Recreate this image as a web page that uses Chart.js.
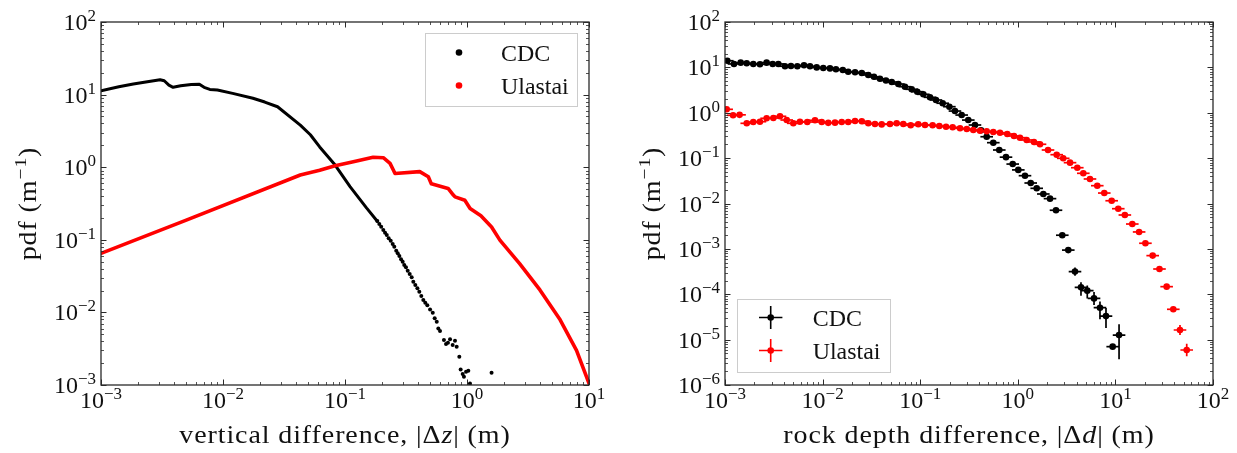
<!DOCTYPE html>
<html><head><meta charset="utf-8">
<script src="https://cdn.jsdelivr.net/npm/chart.js@4.4.1/dist/chart.umd.min.js"></script>
<style>
html,body{margin:0;padding:0;background:#fff;}
#wrap{position:relative;width:1237px;height:453px;overflow:hidden;}
canvas{position:absolute;top:0;}
#c1{left:0;} #c2{left:620px;}
</style></head><body>
<div id="wrap"><canvas id="c1" width="620" height="453"></canvas><canvas id="c2" width="617" height="453"></canvas></div>
<script>
// ---------------- DATA ----------------
// Left panel: vertical difference |Δz| (m) vs pdf
const leftCdcLineX = [0.001, 0.0014, 0.00184, 0.0024, 0.00305, 0.0033, 0.0036, 0.0039, 0.0045, 0.0055, 0.0064, 0.007, 0.0078, 0.009, 0.012, 0.0176, 0.022, 0.028, 0.043, 0.052, 0.062, 0.083, 0.11, 0.15, 0.184];
const leftCdcLineY = [11.3, 12.8, 14.0, 15.0, 16.0, 15.5, 13.5, 12.6, 13.2, 13.8, 13.9, 12.6, 11.8, 11.6, 10.4, 8.9, 7.9, 6.8, 3.8, 2.8, 1.9, 1.07, 0.54, 0.275, 0.18];
const leftCdcTailX = [0.184, 0.191, 0.198, 0.206, 0.213, 0.22, 0.228, 0.237, 0.246, 0.2535, 0.263, 0.2705, 0.279, 0.288, 0.297, 0.306, 0.316, 0.3266, 0.339, 0.352, 0.363, 0.377, 0.392, 0.4065, 0.422, 0.4385, 0.455, 0.473, 0.498, 0.524, 0.5435, 0.565, 0.582, 0.601, 0.647, 0.673, 0.698, 0.726, 0.763, 0.797, 0.823, 0.865, 0.887, 0.922, 0.944, 0.982, 1.025, 1.058, 1.59];
const leftCdcTailY = [0.1815, 0.165, 0.1515, 0.1365, 0.125, 0.1164, 0.105, 0.0973, 0.0875, 0.0804, 0.0708, 0.0652, 0.0598, 0.0538, 0.0499, 0.045, 0.0418, 0.0375, 0.0338, 0.0305, 0.0265, 0.0238, 0.0215, 0.0193, 0.0168, 0.0148, 0.0136, 0.0125, 0.011, 0.0099, 0.0083, 0.00745, 0.006, 0.00555, 0.00417, 0.00367, 0.00383, 0.00426, 0.00356, 0.00407, 0.00337, 0.00245, 0.00164, 0.00142, 0.0013, 0.00152, 0.00157, 0.00105, 0.00148];
const leftUlaX = [0.001, 0.005, 0.043, 0.062, 0.083, 0.117, 0.17, 0.206, 0.234, 0.249, 0.257, 0.41, 0.482, 0.51, 0.70, 0.773, 0.798, 0.96, 1.06, 1.3, 1.59, 1.86, 2.7, 3.96, 5.8, 7.9, 10];
const leftUlaY = [0.065, 0.187, 0.78, 0.91, 1.05, 1.19, 1.37, 1.35, 1.13, 0.915, 0.82, 0.87, 0.74, 0.59, 0.51, 0.414, 0.39, 0.35, 0.27, 0.215, 0.15, 0.099, 0.047, 0.0204, 0.0079, 0.003, 0.00105];

// Right panel: rock depth difference |Δd| (m) vs pdf (binned, with error bars)
const rightCdcX = [1.056e-3, 1.236e-3, 1.448e-3, 1.668e-3, 1.95e-3, 2.28e-3, 2.67e-3, 3.08e-3, 3.52e-3, 4.12e-3, 4.74e-3, 5.51e-3, 6.45e-3, 7.43e-3, 8.7e-3, 0.01016, 0.0119, 0.0137, 0.0161, 0.0183, 0.0215, 0.0252, 0.0294, 0.0336, 0.0387, 0.0446, 0.0511, 0.0597, 0.0698, 0.0818, 0.0933, 0.1077, 0.126, 0.145, 0.170, 0.199, 0.227, 0.266, 0.311, 0.364, 0.42, 0.48, 0.561, 0.646, 0.757, 0.887, 1.012, 1.185, 1.356, 1.562, 1.826, 2.138, 2.462, 2.856, 3.29, 3.855, 4.44, 5.15, 6.04, 6.95, 8.01, 9.38, 10.9];
const rightCdcY = [14.0, 11.9, 12.7, 12.3, 11.9, 11.7, 12.7, 11.9, 11.9, 10.6, 10.7, 10.6, 11.1, 10.6, 10.0, 9.7, 9.5, 9.1, 8.75, 8.0, 7.8, 7.5, 6.8, 6.2, 5.6, 5.14, 4.76, 4.3, 3.75, 3.29, 2.91, 2.55, 2.19, 1.91, 1.62, 1.36, 1.09, 0.89, 0.69, 0.537, 0.41, 0.296, 0.219, 0.151, 0.105, 0.074, 0.055, 0.041, 0.0283, 0.0216, 0.0162, 0.0128, 0.0071, 0.0020, 0.00094, 0.000316, 0.000142, 0.000120, 8.1e-5, 5.05e-5, 3.3e-5, 7.0e-6, 1.26e-5];
const rightCdcYLo = [...Array(55).fill(null), 2.57e-4, 9.3e-5, 8.1e-5, 5.8e-5, 2.8e-5, 1.8e-5, null, 3.7e-6];
const rightCdcYHi = [...Array(55).fill(null), 3.9e-4, 1.83e-4, 1.55e-4, 1.12e-4, 6.9e-5, 5.0e-5, null, 2.18e-5];
const rightUlaX = [1.04e-3, 1.21e-3, 1.41e-3, 1.67e-3, 1.95e-3, 2.28e-3, 2.67e-3, 3.13e-3, 3.66e-3, 4.29e-3, 5.01e-3, 5.86e-3, 6.97e-3, 8.36e-3, 9.8e-3, 0.01143, 0.0134, 0.0157, 0.0183, 0.0215, 0.0252, 0.0294, 0.0344, 0.0403, 0.049, 0.0574, 0.0671, 0.0799, 0.0955, 0.112, 0.134, 0.157, 0.184, 0.215, 0.256, 0.30, 0.35, 0.41, 0.48, 0.561, 0.657, 0.78, 0.914, 1.053, 1.233, 1.465, 1.689, 2.04, 2.503, 2.92, 3.43, 4.07, 4.69, 5.49, 6.52, 7.69, 9.16, 10.7, 12.5, 14.9, 17.5, 20.3, 24.1, 28.3, 33.5, 39.2, 45.9, 53.8];
const rightUlaY = [1.19, 0.879, 0.90, 0.585, 0.625, 0.635, 0.755, 0.766, 0.835, 0.692, 0.585, 0.635, 0.625, 0.682, 0.625, 0.599, 0.605, 0.625, 0.625, 0.658, 0.65, 0.585, 0.565, 0.554, 0.565, 0.585, 0.565, 0.529, 0.56, 0.537, 0.529, 0.511, 0.493, 0.478, 0.454, 0.438, 0.417, 0.402, 0.39, 0.377, 0.363, 0.34, 0.308, 0.282, 0.251, 0.227, 0.202, 0.151, 0.119, 0.099, 0.0794, 0.0615, 0.0463, 0.0347, 0.0247, 0.017, 0.0115, 0.00768, 0.00558, 0.00353, 0.00236, 0.00133, 0.00071, 0.00036, 0.000147, 4.66e-5, 1.63e-5, 5.9e-6];
const rightUlaYLo = [...Array(66).fill(null), 1.26e-5, 4.3e-6];
const rightUlaYHi = [...Array(66).fill(null), 2.1e-5, 8.1e-6];
const binHalfWidthFactor = 1.16; // horizontal error bar half-width (multiplicative)

const seriesNames = ['CDC', 'Ulastai'];
const leftXRange = [1e-3, 1e1], leftYRange = [1e-3, 1e2];
const rightXRange = [1e-3, 1e2], rightYRange = [1e-6, 1e2];

// ---------------- HELPERS ----------------
const FONT = '"Liberation Serif", "Times New Roman", serif';
const zip = (xs, ys) => xs.map((x, i) => ({x, y: ys[i]}));
const fmtExp = k => (k < 0 ? '\u2212' : '') + Math.abs(k);

function logScale(r) {
  return {
    type: 'logarithmic', min: r[0], max: r[1],
    ticks: {display: false}, grid: {display: false, drawTicks: false},
    border: {display: false}, title: {display: false},
    afterFit(s) { if (s.isHorizontal()) s.height = 0; else s.width = 0; }
  };
}

const TSTRETCH = 1.12;
function richWidth(ctx, segs, size) {
  let w = 0;
  for (const s of segs) {
    const fs = s.sup ? size * 0.7 : size;
    ctx.font = (s.it ? 'italic ' : '') + fs + 'px ' + FONT;
    w += ctx.measureText(s.t).width;
  }
  return w;
}
function drawRich(ctx, segs, cx, y, size) {
  ctx.save();
  ctx.translate(cx, y);
  ctx.scale(TSTRETCH, 1);
  ctx.letterSpacing = '0.8px';
  const w = richWidth(ctx, segs, size);
  let x = -w / 2;
  ctx.textAlign = 'left'; ctx.textBaseline = 'alphabetic';
  for (const s of segs) {
    const fs = s.sup ? size * 0.7 : size;
    ctx.font = (s.it ? 'italic ' : '') + fs + 'px ' + FONT;
    ctx.fillText(s.t, x, s.sup ? -size * 0.4 : 0);
    x += ctx.measureText(s.t).width;
  }
  ctx.letterSpacing = '0px';
  ctx.restore();
}

const decor = {
  id: 'decor',
  afterDraw(chart, args, o) {
    const ctx = chart.ctx, a = chart.chartArea;
    const xs = chart.scales.x, ys = chart.scales.y;
    ctx.save();
    ctx.strokeStyle = '#2a2a2a';
    // ticks (inward, all four sides)
    const ticks = (scale, horiz) => {
      const lo = Math.round(Math.log10(scale.min)), hi = Math.round(Math.log10(scale.max));
      for (let k = lo; k <= hi; k++) {
        for (let m = 1; m <= 9; m++) {
          const v = m * Math.pow(10, k);
          if (v < scale.min * 0.999 || v > scale.max * 1.001) continue;
          const p = Math.round(scale.getPixelForValue(v)) + 0.5;
          const len = m === 1 ? 5.5 : 3;
          ctx.lineWidth = m === 1 ? 1 : 0.8;
          ctx.beginPath();
          if (horiz) { ctx.moveTo(p, a.bottom); ctx.lineTo(p, a.bottom - len); ctx.moveTo(p, a.top); ctx.lineTo(p, a.top + len); }
          else { ctx.moveTo(a.left, p); ctx.lineTo(a.left + len, p); ctx.moveTo(a.right, p); ctx.lineTo(a.right - len, p); }
          ctx.stroke();
        }
      }
    };
    ticks(xs, true); ticks(ys, false);
    ctx.lineWidth = 1.3;
    ctx.strokeRect(a.left, a.top, a.right - a.left, a.bottom - a.top);

    // tick labels
    ctx.fillStyle = '#111';
    ctx.textAlign = 'left'; ctx.textBaseline = 'alphabetic';
    const bF = '24px ' + FONT, eF = '17px ' + FONT;
    const label = (k, horiz, p) => {
      ctx.font = bF; const w1 = ctx.measureText('10').width;
      ctx.font = eF; const e = fmtExp(k); const w2 = ctx.measureText(e).width;
      let x0, yb;
      if (horiz) { x0 = p - (w1 + w2) / 2; yb = a.bottom + 23; }
      else { x0 = a.left - 5 - (w1 + w2); yb = p + 8; }
      ctx.font = bF; ctx.fillText('10', x0, yb);
      ctx.font = eF; ctx.fillText(e, x0 + w1, yb - 9);
    };
    for (let k = Math.round(Math.log10(xs.min)); k <= Math.round(Math.log10(xs.max)); k++) label(k, true, xs.getPixelForValue(Math.pow(10, k)));
    for (let k = Math.round(Math.log10(ys.min)); k <= Math.round(Math.log10(ys.max)); k++) label(k, false, ys.getPixelForValue(Math.pow(10, k)));

    // axis titles
    drawRich(ctx, o.xTitle, (a.left + a.right) / 2, a.bottom + 58, 25);
    ctx.save();
    ctx.translate(a.left - 65, (a.top + a.bottom) / 2);
    ctx.rotate(-Math.PI / 2);
    drawRich(ctx, o.yTitle, 0, 0, 25);
    ctx.restore();

    // legend
    const L = o.legend;
    ctx.fillStyle = '#fff';
    ctx.fillRect(L.box[0], L.box[1], L.box[2] - L.box[0], L.box[3] - L.box[1]);
    ctx.strokeStyle = '#cccccc'; ctx.lineWidth = 1;
    ctx.strokeRect(L.box[0] + 0.5, L.box[1] + 0.5, L.box[2] - L.box[0], L.box[3] - L.box[1]);
    L.items.forEach(it => {
      ctx.fillStyle = it.color; ctx.strokeStyle = it.color;
      if (L.err) {
        ctx.lineWidth = 1.6;
        ctx.beginPath();
        ctx.moveTo(L.markerX - 11.7, it.y); ctx.lineTo(L.markerX + 11.7, it.y);
        ctx.moveTo(L.markerX, it.y - 11.5); ctx.lineTo(L.markerX, it.y + 11.5);
        ctx.stroke();
      }
      ctx.beginPath(); ctx.arc(L.markerX, it.y, 3.3, 0, Math.PI * 2); ctx.fill();
      ctx.fillStyle = '#111';
      ctx.save();
      ctx.translate(L.textX, it.y + 8);
      ctx.scale(1.04, 1);
      ctx.font = '23px ' + FONT; ctx.textAlign = 'left';
      ctx.fillText(it.label, 0, 0);
      ctx.restore();
    });
    ctx.restore();
  }
};

const errorBars = {
  id: 'errorBars',
  beforeDatasetDraw(chart, args) {
    const ds = chart.data.datasets[args.index];
    if (!ds.xFactor) return;
    const ctx = chart.ctx, a = chart.chartArea, xs = chart.scales.x, ys = chart.scales.y;
    ctx.save();
    ctx.beginPath(); ctx.rect(a.left, a.top, a.right - a.left, a.bottom - a.top); ctx.clip();
    ctx.strokeStyle = ds.backgroundColor; ctx.lineWidth = 1.7;
    ds.data.forEach((d, i) => {
      const py = ys.getPixelForValue(d.y);
      ctx.beginPath();
      ctx.moveTo(xs.getPixelForValue(d.x / ds.xFactor), py);
      ctx.lineTo(xs.getPixelForValue(d.x * ds.xFactor), py);
      if (ds.yLo && ds.yLo[i] != null) {
        const px = xs.getPixelForValue(d.x);
        ctx.moveTo(px, ys.getPixelForValue(ds.yLo[i]));
        ctx.lineTo(px, ys.getPixelForValue(ds.yHi[i]));
      }
      ctx.stroke();
    });
    ctx.restore();
  }
};

const common = {
  responsive: false, animation: false, devicePixelRatio: 1,
  events: []
};

// ---------------- LEFT CHART ----------------
new Chart(document.getElementById('c1'), {
  type: 'scatter',
  data: {datasets: [
    {label: seriesNames[1], data: zip(leftUlaX, leftUlaY), showLine: true, borderColor: '#ff0000', backgroundColor: '#ff0000', borderWidth: 3.6, borderCapStyle: 'round', borderJoinStyle: 'round', pointRadius: 0, order: 0},
    {label: seriesNames[0], data: zip(leftCdcLineX, leftCdcLineY), showLine: true, borderColor: '#000', backgroundColor: '#000', borderWidth: 3, borderCapStyle: 'round', borderJoinStyle: 'round', pointRadius: 0, order: 1},
    {label: seriesNames[0] + ' tail', data: zip(leftCdcTailX, leftCdcTailY), backgroundColor: '#000', borderWidth: 0, pointRadius: 2, order: 1}
  ]},
  options: Object.assign({}, common, {
    layout: {padding: {left: 101, right: 31, top: 22, bottom: 68}},
    scales: {x: logScale(leftXRange), y: logScale(leftYRange)},
    plugins: {
      legend: {display: false}, tooltip: {enabled: false},
      decor: {
        xTitle: [{t: 'vertical difference, |\u0394'}, {t: 'z', it: true}, {t: '| (m)'}],
        yTitle: [{t: 'pdf (m'}, {t: '\u22121', sup: true}, {t: ')'}],
        legend: {box: [425, 33, 577, 106], markerX: 459, textX: 501, err: false,
          items: [{label: seriesNames[0], color: '#000', y: 52.5}, {label: seriesNames[1], color: '#ff0000', y: 85.5}]}
      }
    }
  }),
  plugins: [decor]
});

// ---------------- RIGHT CHART ----------------
new Chart(document.getElementById('c2'), {
  type: 'scatter',
  data: {datasets: [
    {label: seriesNames[1], data: zip(rightUlaX, rightUlaY), backgroundColor: '#ff0000', borderWidth: 0, pointRadius: 3.3, order: 0,
     xFactor: binHalfWidthFactor, yLo: rightUlaYLo, yHi: rightUlaYHi},
    {label: seriesNames[0], data: zip(rightCdcX, rightCdcY), backgroundColor: '#000', borderWidth: 0, pointRadius: 3.3, order: 1,
     xFactor: binHalfWidthFactor, yLo: rightCdcYLo, yHi: rightCdcYHi}
  ]},
  options: Object.assign({}, common, {
    layout: {padding: {left: 105, right: 24, top: 22, bottom: 68}},
    scales: {x: logScale(rightXRange), y: logScale(rightYRange)},
    plugins: {
      legend: {display: false}, tooltip: {enabled: false},
      decor: {
        xTitle: [{t: 'rock depth difference, |\u0394'}, {t: 'd', it: true}, {t: '| (m)'}],
        yTitle: [{t: 'pdf (m'}, {t: '\u22121', sup: true}, {t: ')'}],
        legend: {box: [117, 299, 270, 372], markerX: 150.7, textX: 192.7, err: true,
          items: [{label: seriesNames[0], color: '#000', y: 317.5}, {label: seriesNames[1], color: '#ff0000', y: 350.5}]}
      }
    }
  }),
  plugins: [errorBars, decor]
});
</script>
</body></html>
